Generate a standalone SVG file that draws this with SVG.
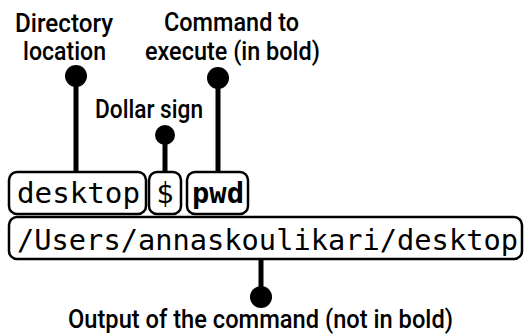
<svg xmlns="http://www.w3.org/2000/svg" width="526" height="334" viewBox="0 0 526 334">
<style>
.lbl{font-family:Roboto,"Liberation Sans",sans-serif;font-weight:500;font-size:26px;fill:#000}
.mono{font-family:"DejaVu Sans Mono","Liberation Mono",monospace;font-size:29px;fill:#000}
.box{fill:#fff;stroke:#000;stroke-width:2.5}
.ln{stroke:#000;stroke-width:5;fill:none}
</style>
<rect width="526" height="334" fill="#fff"/>
<g id="connectors">
<line class="ln" x1="76" y1="76" x2="76" y2="172"/>
<circle cx="76" cy="76" r="11"/>
<line class="ln" x1="165" y1="135" x2="165" y2="172"/>
<circle cx="165" cy="135" r="10"/>
<line class="ln" x1="218" y1="78" x2="218" y2="172"/>
<circle cx="218" cy="78" r="11"/>
<line class="ln" x1="261" y1="259" x2="261" y2="297"/>
<circle cx="261" cy="297" r="11"/>
</g>
<g id="label-directory">
<text class="lbl" x="15" y="32" textLength="98" lengthAdjust="spacingAndGlyphs">Directory</text>
<text class="lbl" x="23" y="60" textLength="83" lengthAdjust="spacingAndGlyphs">location</text>
</g>
<g id="label-command">
<text class="lbl" x="164" y="31" textLength="135" lengthAdjust="spacingAndGlyphs">Command to</text>
<text class="lbl" x="145" y="60" textLength="175" lengthAdjust="spacingAndGlyphs">execute (in bold)</text>
</g>
<g id="label-dollar">
<text class="lbl" x="95" y="118" textLength="108" lengthAdjust="spacingAndGlyphs">Dollar sign</text>
</g>
<g id="box-desktop">
<rect class="box" x="9" y="172" width="137" height="42" rx="8"/>
<text class="mono" x="17" y="203" textLength="123" lengthAdjust="spacingAndGlyphs">desktop</text>
</g>
<g id="box-dollar">
<rect class="box" x="149" y="172" width="32" height="42" rx="8"/>
<text class="mono" x="165" y="203" text-anchor="middle">$</text>
</g>
<g id="box-pwd">
<rect class="box" x="187" y="172" width="61" height="42" rx="8"/>
<text class="mono" x="192" y="203" font-weight="bold" textLength="52" lengthAdjust="spacingAndGlyphs">pwd</text>
</g>
<g id="box-path">
<rect class="box" x="9" y="217" width="513" height="42" rx="8"/>
<text class="mono" x="17" y="250" font-size="30" textLength="501" lengthAdjust="spacingAndGlyphs">/Users/annaskoulikari/desktop</text>
</g>
<g id="label-output">
<text class="lbl" x="68" y="328" textLength="385" lengthAdjust="spacingAndGlyphs">Output of the command (not in bold)</text>
</g>
</svg>
